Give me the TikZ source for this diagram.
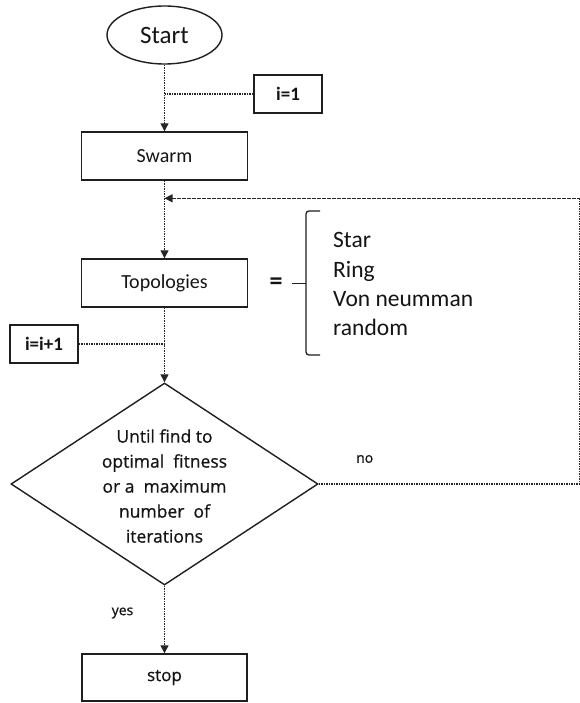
\documentclass[tikz,border=0pt]{standalone}
\usepackage{fontspec}
\setmainfont{Carlito}
\newfontfamily\roundsans[FakeBold=0.7]{Open Sans}
\usetikzlibrary{shapes.geometric,arrows.meta}

\begin{document}
\begin{tikzpicture}[x=1pt,y=-1pt,
  every node/.style={text=black!92, inner sep=0pt},
  outline/.style={draw=black!88, line width=1.4pt},
  procbox/.style={outline, rectangle, minimum width=166pt, minimum height=48pt,
    font=\fontsize{20}{24}\selectfont},
  varbox/.style={outline, rectangle, minimum width=68pt, minimum height=38pt,
    font=\bfseries\fontsize{19}{23}\selectfont},
  listitem/.style={anchor=base west, font=\fontsize{23.5}{28}\selectfont},
  smalllabel/.style={font=\roundsans\fontsize{14}{17}\selectfont},
  flow/.style={draw=black!85, line width=1.3pt, dash pattern=on 1.6pt off 0.9pt},
  flowarrow/.style={flow, -{Triangle[width=8pt,length=8pt]}},
]
\useasboundingbox (0,0) rectangle (579,703);

% main column of the flowchart
\node[outline, ellipse, minimum width=115pt, minimum height=58pt,
      font=\fontsize{25}{30}\selectfont] (start) at (164.5,35) {Start};
\node[varbox] (i1) at (288,94) {i=1};
\node[procbox] (swarm) at (164.5,156) {Swarm};
\node[procbox] (topo) at (164.5,283) {Topologies};
\node[varbox] (inc) at (44,344) {i=i+1};
\node[outline, diamond, minimum width=307pt, minimum height=202pt] (dec) at (164.5,484) {};
\node[align=center, font=\roundsans\fontsize{17.5}{25}\selectfont] (dectext) at (164.5,486)
  {Until find to\\optimal\ \ fitness\\or a\ \ maximum\\number\ \ of\\iterations};
\node[procbox, minimum width=165pt, minimum height=47pt,
      font=\roundsans\fontsize{17}{20}\selectfont] (stop) at (164.5,677.5) {stop};

% list of topologies with its bracket
\node[font=\bfseries\fontsize{26}{30}\selectfont] (eq) at (276,284) {=};
\draw[draw=black!88, line width=1.3pt, rounded corners=3pt]
  (320,211) -- (306,211) -- (306,355) -- (320,355);
\draw[draw=black!88, line width=1.3pt] (292,283.3) -- (306,283.3);
\node[listitem] (star) at (333,247) {Star};
\node[listitem] (ring) at (333,277) {Ring};
\node[listitem] (von) at (333,306) {Von neumman};
\node[listitem] (rand) at (333,335) {random};

% branch labels
\node[smalllabel] (no) at (364.7,459) {no};
\node[smalllabel] (yes) at (122.5,613) {yes};

% junction points on the main column; the return loop runs along the right edge
\coordinate (j1) at (start.south |- i1.west);
\coordinate (j2) at (topo.south |- inc.east);
\coordinate (ret) at (swarm.south |- 0,198.3);
\coordinate (loopT) at (579.5,198.3);
\coordinate (loopB) at (579.5,484);

% connectors
\draw[flowarrow] (start.south) -- (swarm.north);
\draw[flow] (i1.west) -- (j1);
\draw[flowarrow] (swarm.south) -- (topo.north);
\draw[flowarrow] (topo.south) -- (dec.north);
\draw[flow] (inc.east) -- (j2);
\draw[flowarrow] (dec.east) -- (loopB) -- (loopT) -- (ret);
\draw[flowarrow] (dec.south) -- (stop.north);
\end{tikzpicture}
\end{document}
